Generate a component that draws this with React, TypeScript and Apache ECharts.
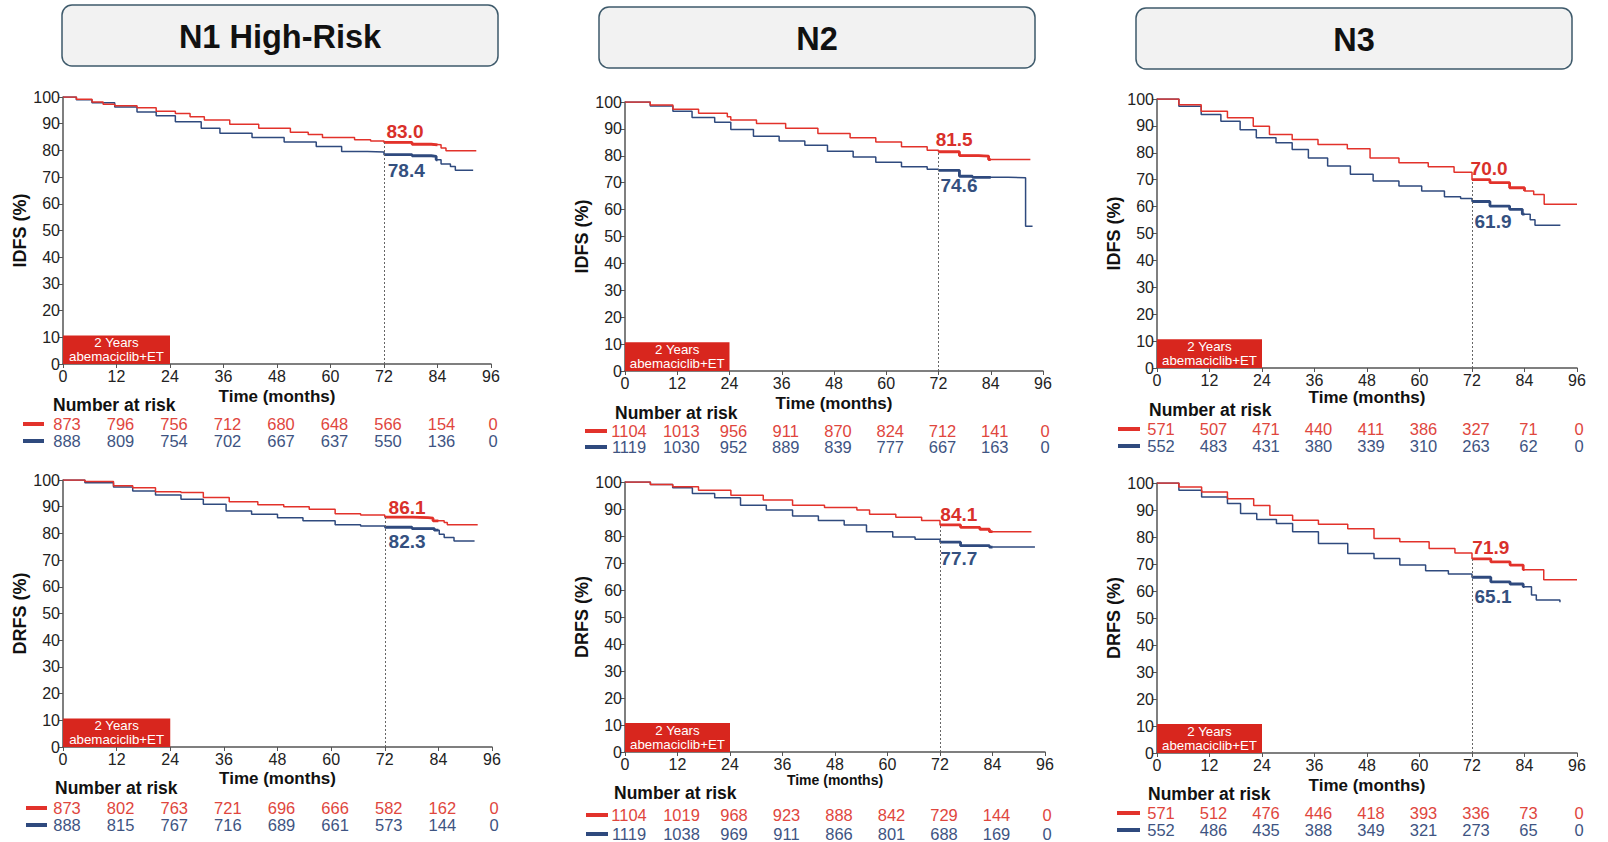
import React, { useEffect, useRef } from "react";
import * as echarts from "echarts";

const FONT = '"Liberation Sans", Arial, Helvetica, sans-serif';
const RED = "#e2322b";
const BLUE = "#2f4a7e";
const RED_LABEL = "#d9302a";
const BLUE_LABEL = "#34507f";
const RED_NUM = "#e0463d";
const BLUE_NUM = "#3e5482";
const BOX_RED = "#d8261e";
const AXIS = "#555555";

const timeTicks = [0, 12, 24, 36, 48, 60, 72, 84, 96];
const columnTitles = ["N1 High-Risk", "N2", "N3"];
const endpointNames = ["IDFS (%)", "IDFS (%)", "IDFS (%)", "DRFS (%)", "DRFS (%)", "DRFS (%)"];
const treatmentBoxText = "2 Years\nabemaciclib+ET";

// 72-month estimates (abemaciclib+ET, ET alone)
const est72Abema = [83.0, 81.5, 70.0, 86.1, 84.1, 71.9];
const est72Et = [78.4, 74.6, 61.9, 82.3, 77.7, 65.1];

// Kaplan-Meier curves: [month, %]
const n1IdfsAbema = [[0,100],[3,99.2],[6.5,98.1],[9,97.3],[11.6,96.7],[16.6,96.0],[20.9,94.7],[25.2,93.8],[28.5,92.6],[31.7,91.4],[37.4,89.8],[43.9,88.3],[51,86.8],[55,86.0],[58.2,84.8],[65.4,84.0],[69,83.5],[72,83.0],[78.3,82.3],[82.6,82.1],[84.8,80.9],[85.9,79.9],[92.7,79.9]];
const n1IdfsEt = [[0,100],[3,99.0],[6.5,97.8],[11.6,96.3],[16.6,94.4],[20.9,93.0],[25.2,90.7],[31,88.3],[35.2,86.4],[42.4,84.8],[49.6,83.1],[56.8,81.5],[62.5,79.6],[68.3,79.4],[72,78.4],[78.3,78.0],[82.6,77.8],[83.7,76.5],[84.8,74.9],[86.9,74.0],[88,72.6],[92,72.6]];
const n2IdfsAbema = [[0,100],[5.8,98.9],[11,97.3],[16.9,95.8],[23.5,94.5],[24.3,93.3],[30.2,92.0],[36.9,90.2],[44.3,88.3],[51.7,86.7],[57.6,85.1],[63.5,83.4],[69.4,82.1],[72,81.5],[76.8,80.1],[81.2,79.9],[83.5,78.6],[93.1,78.6]];
const n2IdfsEt = [[0,100],[5.8,98.5],[11,96.6],[15.4,94.2],[20.6,92.5],[24.3,89.8],[29.5,87.3],[35.4,85.5],[41.3,83.9],[46.5,81.7],[52.4,79.6],[57.6,77.6],[63.5,75.9],[69.4,75.0],[72,74.6],[76.8,72.4],[79.8,72.0],[88,71.8],[92,53.8],[93.6,53.8]];
const n3IdfsAbema = [[0,100],[5,97.9],[10.1,95.4],[16.1,93.0],[22,89.9],[25.7,86.8],[30.9,84.9],[36.8,83.1],[43.5,81.5],[48.7,78.1],[55.3,76.3],[62,74.8],[67.9,72.8],[72,70.0],[76.1,68.9],[80.6,67.0],[84,65.8],[86.1,64.5],[88.5,60.9],[96,60.9]];
const n3IdfsEt = [[0,100],[5,97.3],[10.1,94.2],[14.6,91.7],[19,88.6],[22.7,85.6],[27.2,83.7],[30.9,81.2],[34.6,78.1],[39,75.1],[44.2,72.0],[49.4,69.5],[55.3,67.7],[60.5,65.8],[65.7,63.7],[69.4,63.0],[72,61.9],[76.1,60.2],[80.6,59.0],[83.5,57.2],[85.3,55.1],[86.4,53.1],[92.2,53.1]];
const n1DrfsAbema = [[0,100],[4.9,99.4],[11.3,97.8],[15.6,97.1],[20.7,95.6],[26.4,95.3],[31.4,93.4],[37.2,91.9],[43.6,90.7],[49.4,90.0],[55.1,89.0],[60.9,87.4],[66.6,86.9],[72,86.1],[78.1,85.9],[81.7,85.7],[82.8,84.7],[85.3,84.1],[86,83.2],[92.8,83.2]];
const n1DrfsEt = [[0,100],[4.9,99.0],[11.3,97.4],[15.6,95.9],[20.7,94.4],[26.4,92.8],[31.4,90.9],[36.5,88.4],[42.2,87.2],[48,85.9],[53.7,84.7],[60.9,83.2],[66.6,82.8],[72,82.3],[78.1,81.8],[83.1,81.2],[84.2,79.7],[85.3,78.5],[87.5,77.2],[92.1,77.2]];
const n2DrfsAbema = [[0,100],[5.8,99.1],[10.9,98.2],[16.8,96.9],[24.2,95.1],[31.6,93.3],[38.3,91.4],[45.6,90.6],[53,89.6],[55.9,88.1],[61.9,86.9],[67.8,85.7],[72,84.1],[76.7,83.2],[81.1,82.5],[83.3,81.6],[92.9,81.6]];
const n2DrfsEt = [[0,100],[5.8,99.1],[10.9,97.9],[15.4,95.7],[20.5,94.2],[26.4,91.4],[32.3,89.6],[38.3,87.4],[44.2,85.7],[50.1,84.1],[55.2,81.6],[61.2,79.6],[66.3,78.8],[72,77.7],[76.7,76.4],[83.3,75.9],[93.7,75.9]];
const n3DrfsAbema = [[0,100],[5,98.5],[10.2,96.7],[16.1,94.2],[22.1,91.7],[25.8,88.1],[31,86.2],[36.9,84.7],[43.6,83.1],[49.6,79.4],[55.5,78.2],[62.2,75.7],[68.1,74.1],[72,71.9],[76.3,70.8],[80.7,69.6],[83.7,67.9],[88.4,64.2],[96,64.2]];
const n3DrfsEt = [[0,100],[5,97.3],[10.2,94.8],[16.1,92.4],[19.1,88.7],[22.8,86.5],[27.3,85.0],[31,81.9],[36.9,77.6],[43.6,73.9],[49.6,72.0],[55.5,69.6],[61.4,67.5],[66.6,66.3],[72,65.1],[76.3,63.4],[80.7,62.6],[83.7,61.6],[85.6,58.5],[86.7,56.7],[92.1,55.8]];

// Number at risk
const n1IdfsRiskAbema = [873, 796, 756, 712, 680, 648, 566, 154, 0];
const n1IdfsRiskEt = [888, 809, 754, 702, 667, 637, 550, 136, 0];
const n2IdfsRiskAbema = [1104, 1013, 956, 911, 870, 824, 712, 141, 0];
const n2IdfsRiskEt = [1119, 1030, 952, 889, 839, 777, 667, 163, 0];
const n3IdfsRiskAbema = [571, 507, 471, 440, 411, 386, 327, 71, 0];
const n3IdfsRiskEt = [552, 483, 431, 380, 339, 310, 263, 62, 0];
const n1DrfsRiskAbema = [873, 802, 763, 721, 696, 666, 582, 162, 0];
const n1DrfsRiskEt = [888, 815, 767, 716, 689, 661, 573, 144, 0];
const n2DrfsRiskAbema = [1104, 1019, 968, 923, 888, 842, 729, 144, 0];
const n2DrfsRiskEt = [1119, 1038, 969, 911, 866, 801, 688, 169, 0];
const n3DrfsRiskAbema = [571, 512, 476, 446, 418, 393, 336, 73, 0];
const n3DrfsRiskEt = [552, 486, 435, 388, 349, 321, 273, 65, 0];

const curves = [
  [n1IdfsAbema, n1IdfsEt], [n2IdfsAbema, n2IdfsEt], [n3IdfsAbema, n3IdfsEt],
  [n1DrfsAbema, n1DrfsEt], [n2DrfsAbema, n2DrfsEt], [n3DrfsAbema, n3DrfsEt],
];
const risks = [
  [n1IdfsRiskAbema, n1IdfsRiskEt], [n2IdfsRiskAbema, n2IdfsRiskEt], [n3IdfsRiskAbema, n3IdfsRiskEt],
  [n1DrfsRiskAbema, n1DrfsRiskEt], [n2DrfsRiskAbema, n2DrfsRiskEt], [n3DrfsRiskAbema, n3DrfsRiskEt],
];

// layout (pixels)
const headers = [
  { x: 62, y: 5, w: 436, h: 61 },
  { x: 599, y: 7, w: 436, h: 61 },
  { x: 1136, y: 8, w: 436, h: 61 },
];
const panels = [
  { left: 63, top: 97, right: 491, bottom: 364, nameGap: 24, nameSize: 17, narTitle: [53, 405], narRed: 424, narBlue: 441, dash: [23, 44], redLabel: [76.7, 87.2], blueLabel: [77, 72.6] },
  { left: 625, top: 102, right: 1043, bottom: 371, nameGap: 24, nameSize: 17, narTitle: [615, 413], narRed: 431, narBlue: 447, dash: [585, 607], redLabel: [75.6, 85.9], blueLabel: [76.7, 68.8] },
  { left: 1157, top: 99, right: 1577, bottom: 368, nameGap: 19, nameSize: 17, narTitle: [1149, 410], narRed: 429, narBlue: 446, dash: [1118, 1140], redLabel: [75.9, 74.3], blueLabel: [76.8, 54.6] },
  { left: 63, top: 480, right: 492, bottom: 747, nameGap: 23, nameSize: 17, narTitle: [55, 788], narRed: 808, narBlue: 825, dash: [26, 47], redLabel: [77, 89.8], blueLabel: [77, 76.8] },
  { left: 625, top: 482, right: 1045, bottom: 752, nameGap: 20, nameSize: 14, narTitle: [614, 793], narRed: 815, narBlue: 834, dash: [586, 608], redLabel: [76.3, 88.0], blueLabel: [76.3, 71.5] },
  { left: 1157, top: 483, right: 1577, bottom: 753, nameGap: 24, nameSize: 17, narTitle: [1148, 794], narRed: 813, narBlue: 830, dash: [1117, 1140], redLabel: [76.3, 76.0], blueLabel: [76.8, 58.1] },
];

function valueAt(data: number[][], t: number) {
  let v = data[0][1];
  for (const d of data) if (d[0] <= t) v = d[1];
  return v;
}
function denseSegment(data: number[][], from: number, to: number) {
  const seg = [[from, valueAt(data, from)]];
  data.forEach((d) => { if (d[0] > from && d[0] <= to) seg.push([d[0], d[1]]); });
  seg.push([to, valueAt(data, to)]);
  return seg;
}

function buildOption() {
  const grid: any[] = [];
  const xAxis: any[] = [];
  const yAxis: any[] = [];
  const series: any[] = [];
  panels.forEach((p, i) => {
    grid.push({ left: p.left, top: p.top, width: p.right - p.left, height: p.bottom - p.top });
    xAxis.push({
      gridIndex: i, type: "value", min: 0, max: 96, interval: 12,
      name: "Time (months)", nameLocation: "middle", nameGap: p.nameGap,
      nameTextStyle: { fontSize: p.nameSize, fontWeight: "bold", color: "#111", fontFamily: FONT },
      axisLine: { show: true, onZero: false, lineStyle: { color: AXIS, width: 1.5 } },
      axisTick: { show: true, length: 4, lineStyle: { color: AXIS } },
      axisLabel: { fontSize: 16, color: "#222", margin: 4, fontFamily: FONT },
      splitLine: { show: false },
    });
    yAxis.push({
      gridIndex: i, type: "value", min: 0, max: 100, interval: 10,
      name: endpointNames[i], nameLocation: "middle", nameGap: 30,
      nameTextStyle: { fontSize: 18, fontWeight: "bold", color: "#111", fontFamily: FONT },
      axisLine: { show: true, onZero: false, lineStyle: { color: AXIS, width: 1.5 } },
      axisTick: { show: true, length: 4, lineStyle: { color: AXIS } },
      axisLabel: { fontSize: 16, color: "#222", margin: 3, fontFamily: FONT },
      splitLine: { show: false },
    });
    const [red, blue] = curves[i];
    series.push({
      type: "line", name: "ET alone", xAxisIndex: i, yAxisIndex: i, data: blue, step: "end",
      symbol: "none", silent: true, lineStyle: { color: BLUE, width: 1.5 }, itemStyle: { color: BLUE }, z: 3,
      markPoint: {
        symbol: "circle", symbolSize: 1, itemStyle: { color: "rgba(0,0,0,0)" }, silent: true,
        label: { show: true, position: "inside", formatter: est72Et[i].toFixed(1), fontSize: 19, fontWeight: "bold", color: BLUE_LABEL, fontFamily: FONT },
        data: [{ coord: p.blueLabel }],
      },
    });
    series.push({
      type: "line", name: "ET alone dense", xAxisIndex: i, yAxisIndex: i, data: denseSegment(blue, 72, 84), step: "end",
      symbol: "none", silent: true, lineStyle: { color: BLUE, width: 2.8 }, z: 3,
    });
    series.push({
      type: "line", name: "Abemaciclib + ET", xAxisIndex: i, yAxisIndex: i, data: red, step: "end",
      symbol: "none", silent: true, lineStyle: { color: RED, width: 1.5 }, itemStyle: { color: RED }, z: 4,
      markArea: {
        silent: true, itemStyle: { color: BOX_RED, opacity: 1 },
        label: { show: true, position: "inside", formatter: treatmentBoxText, color: "#fff", fontSize: 13.3, lineHeight: 14, fontFamily: FONT },
        data: [[{ coord: [0, 0] }, { coord: [24, 10.7] }]],
      },
      markLine: {
        silent: true, symbol: ["none", "none"], label: { show: false },
        lineStyle: { color: "#666", width: 1, type: [2, 2] },
        data: [[{ coord: [72, 0] }, { coord: [72, est72Abema[i]] }]],
      },
      markPoint: {
        symbol: "circle", symbolSize: 1, itemStyle: { color: "rgba(0,0,0,0)" }, silent: true,
        label: { show: true, position: "inside", formatter: est72Abema[i].toFixed(1), fontSize: 19, fontWeight: "bold", color: RED_LABEL, fontFamily: FONT },
        data: [{ coord: p.redLabel }],
      },
    });
    series.push({
      type: "line", name: "Abemaciclib + ET dense", xAxisIndex: i, yAxisIndex: i, data: denseSegment(red, 72, 84), step: "end",
      symbol: "none", silent: true, lineStyle: { color: RED, width: 2.8 }, z: 4,
    });
  });
  return {
    animation: false,
    backgroundColor: "#ffffff",
    textStyle: { fontFamily: FONT },
    grid, xAxis, yAxis, series,
  };
}

export default function App() {
  const ref = useRef<HTMLDivElement>(null);
  useEffect(() => {
    if (!ref.current) return;
    const chart = echarts.init(ref.current, null, { renderer: "svg" });
    chart.setOption(buildOption());
    const g: any[] = [];
    headers.forEach((h, c) => {
      g.push({ type: "rect", shape: { x: h.x, y: h.y, width: h.w, height: h.h, r: 10 }, style: { fill: "#f2f2f2", stroke: "#3e5a6b", lineWidth: 1.5 } });
      g.push({ type: "text", x: h.x + h.w / 2, y: h.y + h.h / 2 + 1, style: { text: columnTitles[c], fontSize: 32.5, fontWeight: "bold", fontFamily: FONT, fill: "#111", align: "center", verticalAlign: "middle" } });
    });
    panels.forEach((p, i) => {
      g.push({ type: "text", x: p.narTitle[0], y: p.narTitle[1], style: { text: "Number at risk", fontSize: 17.5, fontWeight: "bold", fontFamily: FONT, fill: "#111", align: "left", verticalAlign: "middle" } });
      g.push({ type: "line", shape: { x1: p.dash[0], y1: p.narRed, x2: p.dash[1], y2: p.narRed }, style: { stroke: RED, lineWidth: 4 } });
      g.push({ type: "line", shape: { x1: p.dash[0], y1: p.narBlue, x2: p.dash[1], y2: p.narBlue }, style: { stroke: BLUE, lineWidth: 4 } });
      const [rr, rb] = risks[i];
      timeTicks.forEach((t, k) => {
        const px = chart.convertToPixel({ xAxisIndex: i }, t) as number;
        const x = px + (k === timeTicks.length - 1 ? 2 : 4);
        g.push({ type: "text", x, y: p.narRed, style: { text: String(rr[k]), fontSize: 16.5, fontFamily: FONT, fill: RED_NUM, align: "center", verticalAlign: "middle" } });
        g.push({ type: "text", x, y: p.narBlue, style: { text: String(rb[k]), fontSize: 16.5, fontFamily: FONT, fill: BLUE_NUM, align: "center", verticalAlign: "middle" } });
      });
    });
    chart.setOption({ graphic: g });
    return () => chart.dispose();
  }, []);
  return (
    <div
      ref={ref}
      style={{ position: "fixed", left: 0, top: 0, width: 1608, height: 842, background: "#fff" }}
    />
  );
}
